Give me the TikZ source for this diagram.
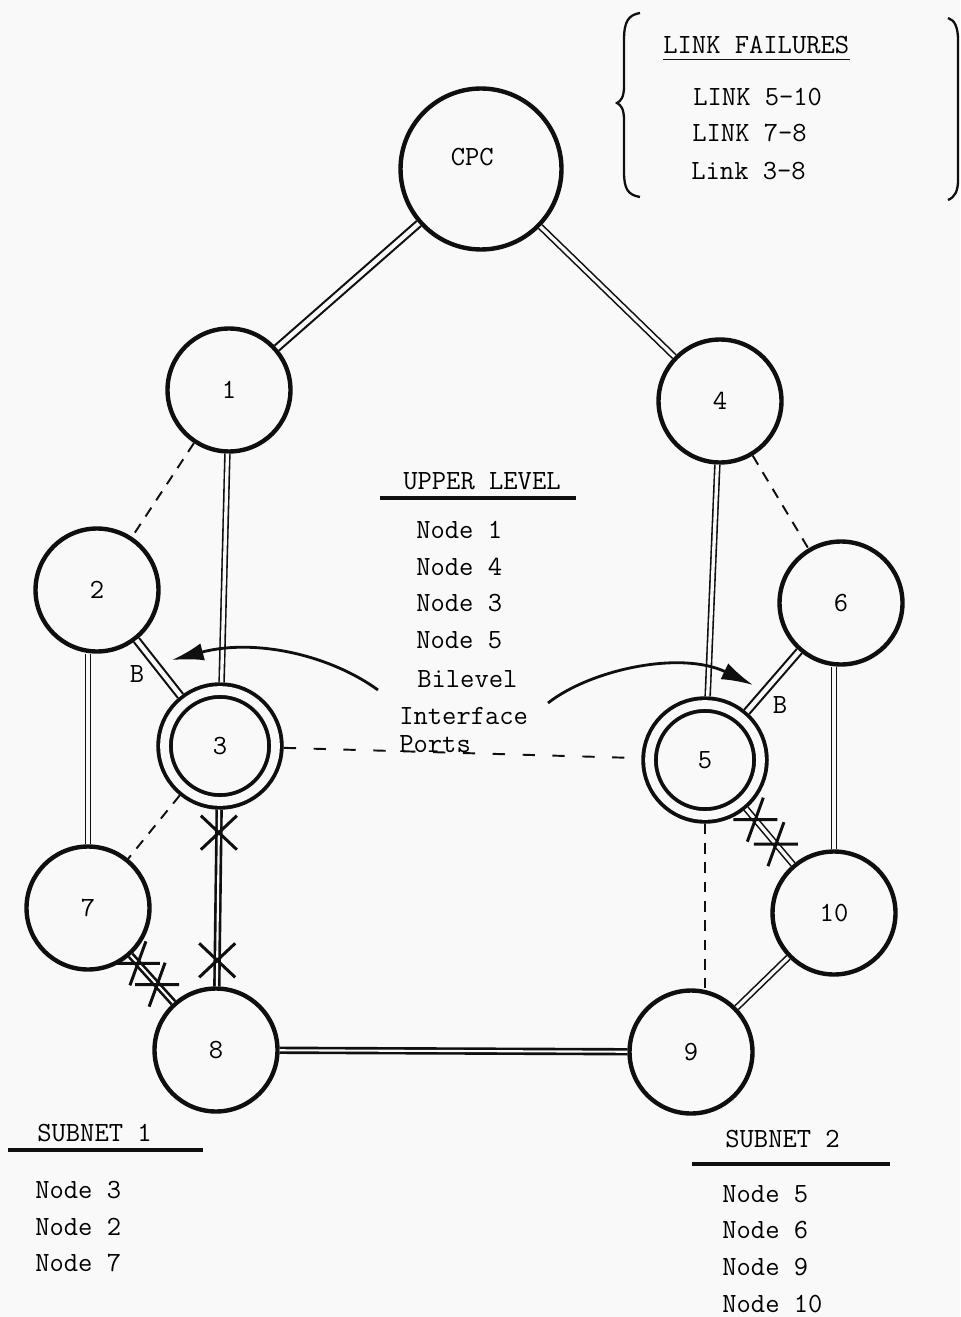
\documentclass[tikz,border=0pt]{standalone}
\usepackage{fontspec}
\usepackage{tikz}
\usetikzlibrary{calc}
\usetikzlibrary{arrows.meta}
\definecolor{paper}  {RGB}{249,249,249}
\definecolor{ink}    {RGB}{15,15,15}
\tikzset{
    station/.style={circle, draw=ink, line width=2.5pt, minimum size=2.46cm,
             inner sep=0pt, font=\fontsize{15.8}{18}\selectfont\ttfamily},
    centre/.style={station, minimum size=3.22cm},
    bilevel/.style={station, double=paper, double distance=5pt, line width=2.2pt,
             minimum size=2.22cm, outer sep=4.7pt},
    link/.style={draw=ink, double=paper, line width=0.9pt, double distance=1.9pt},
    widelink/.style={draw=ink, double=paper, line width=1.2pt, double distance=2.5pt},
    heavylink/.style={draw=ink, double=paper, line width=1.5pt, double distance=1.2pt},
    spare/.style={draw=ink, line width=1.1pt, dash pattern=on 6pt off 5pt},
    pointer/.style={draw=ink, line width=1.6pt, -{Latex[length=18pt,width=10pt]}},
    failmark/.style={draw=ink, line width=1.7pt},
    rule/.style={draw=ink, line width=1.8pt},
    legend/.style={font=\fontsize{15.8}{18}\selectfont\ttfamily, inner sep=0pt},
    cutx/.pic={\draw[failmark] (-18,-17) -- (18,17) (-18,17) -- (18,-17);},
    cutstar/.pic={\draw[failmark] (-22,0) -- (22,0) (-8,22) -- (8,-22);}
  }
\begin{document}
\begin{tikzpicture}[x=0.02cm, y=-0.02cm]
 \fill[paper] (0,0) rectangle (960,1317);
 \useasboundingbox (0,0) rectangle (960,1317);
 %Stations
     \node[centre, label={[legend, xshift=-5pt, yshift=7pt]center:CPC}] (cpc) at (481,169) {};
     \node[station] (n1) at (229,390) {1};
     \node[station] (n4) at (720,401) {4};
     \node[station] (n2) at (97,590) {2};
     \node[station] (n6) at (841,603) {6};
     \node[bilevel] (n3) at (220,746) {3};
     \node[bilevel] (n5) at (705,760) {5};
     \node[station] (n7) at (88,908) {7};
     \node[station] (n8) at (216,1050) {8};
     \node[station] (n9) at (691,1052) {9};
     \node[station] (n10) at (834,913) {10};
 %Upper level links
     \draw[widelink] (cpc) -- (n1);
     \draw[link] (cpc) -- (n4);
     \draw[link] (n1) -- (n3);
     \draw[link] (n4) -- (n5);
 %Subnet 1 links
     \draw[widelink] (n2) -- (n3);
     \draw[link] (n7.north) -- (n7.north |- n2.south);
     \draw[heavylink] (n3) -- (n8);
     \draw[heavylink] (n7) -- (n8);
 %Subnet 2 links
     \draw[widelink] (n5) -- (n6);
     \draw[link] (n10.north) -- (n10.north |- n6.south);
     \draw[link] (n5) -- (n10);
     \draw[link] (n9) -- (n10);
 %Between subnets
     \draw[heavylink] (n8) -- (n9);
 %Spare links
     \draw[spare] (n1) -- (n2);
     \draw[spare] (n4) -- (n6);
     \draw[spare] (n3) -- (n7);
     \draw[spare, dash pattern=on 7pt off 10pt] (n3) -- (n5);
     \draw[spare] (n5.south) -- (n5.south |- n9.north);
 %Failed links
     \pic at ($(n3)!0.285!(n8)$) {cutx};
     \pic at ($(n3)!0.705!(n8)$) {cutx};
     \pic at ($(n7)!0.39!(n8)$) {cutstar};
     \pic at ($(n7)!0.54!(n8)$) {cutstar};
     \pic at ($(n5)!0.39!(n10)$) {cutstar};
     \pic at ($(n5)!0.55!(n10)$) {cutstar};
 %Interface port marks
     \node[legend] (bleft) at (137,674) {B};
     \node[legend] (bright) at (780,705) {B};
 %Link failures
     \draw[ink, line width=1.3pt] (640,13) .. controls (628,15) and (624,22) .. (624,40)
        -- (624,86) .. controls (624,97) and (621,101) .. (617,103)
        .. controls (621,105) and (624,109) .. (624,120)
        -- (624,172) .. controls (624,189) and (628,195) .. (640,197);
     \draw[ink, line width=1.3pt] (948,18) .. controls (955,20) and (958,28) .. (958,40)
        -- (958,180) .. controls (958,191) and (955,197) .. (948,200);
     \node[legend, anchor=west] (failhead) at (663,45) {LINK FAILURES};
     \draw[ink, line width=1pt] ([yshift=-3pt]failhead.south west) -- ([yshift=-3pt]failhead.south east);
     \node[legend, anchor=west] (fail1) at (693,97) {LINK 5-10};
     \node[legend, anchor=west] (fail2) at (692,133) {LINK 7-8};
     \node[legend, anchor=west] (fail3) at (691,171) {Link 3-8};
 %Upper level
     \node[legend, anchor=west] (uphead) at (403,481) {UPPER LEVEL};
     \draw[rule] (380,498) -- (576,498);
     \node[legend, anchor=west] (up1) at (416,530) {Node 1};
     \node[legend, anchor=west] (up2) at (416,567) {Node 4};
     \node[legend, anchor=west] (up3) at (416,603) {Node 3};
     \node[legend, anchor=west] (up4) at (416,640) {Node 5};
     \node[legend, anchor=west] (bil) at (417,679) {Bilevel};
     \node[legend, anchor=west, align=left, font=\fontsize{15.8}{16.2}\selectfont\ttfamily]
        (ports) at (399,730) {Interface\\Ports};
 %Arrows to the ports
     \coordinate (tailL) at (378,690);
     \coordinate (tipL) at (172,660);
     \coordinate (tailR) at (548,703);
     \coordinate (tipR) at (753,685);
     \draw[pointer] (tailL) .. controls (330,655) and (255,638) .. (tipL);
     \draw[pointer] (tailR) .. controls (590,670) and (680,650) .. (tipR);
 %Subnet 1
     \node[legend, anchor=west] (sub1) at (37,1133) {SUBNET 1};
     \draw[rule] (8,1150) -- (203,1150);
     \node[legend, anchor=west] (s1a) at (35,1190) {Node 3};
     \node[legend, anchor=west] (s1b) at (35,1227) {Node 2};
     \node[legend, anchor=west] (s1c) at (35,1263) {Node 7};
 %Subnet 2
     \node[legend, anchor=west] (sub2) at (725,1139) {SUBNET 2};
     \draw[rule] (692,1164) -- (890,1164);
     \node[legend, anchor=west] (s2a) at (722,1194) {Node 5};
     \node[legend, anchor=west] (s2b) at (722,1230) {Node 6};
     \node[legend, anchor=west] (s2c) at (722,1267) {Node 9};
     \node[legend, anchor=west] (s2d) at (722,1304) {Node 10};
 \end{tikzpicture}
\end{document}
